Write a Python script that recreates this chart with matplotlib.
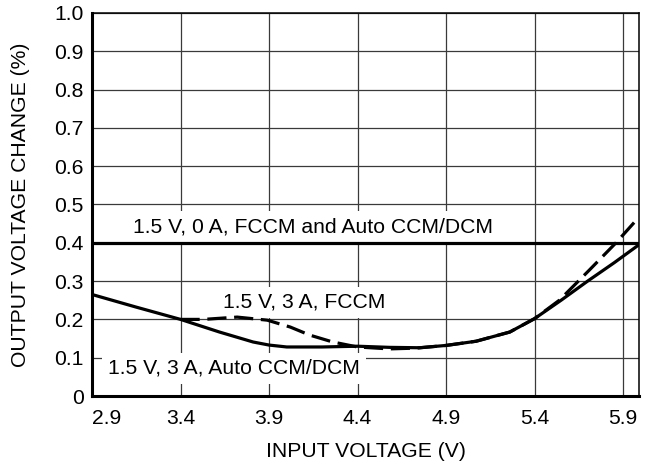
import numpy as np
import matplotlib
matplotlib.use("Agg")
from matplotlib import pyplot as plt

plt.rcParams['font.family'] = ['Liberation Sans', 'DejaVu Sans']

# values
x_ticks = [2.9, 3.4, 3.9, 4.4, 4.9, 5.4, 5.9]
y_ticks = [0, 0.1, 0.2, 0.3, 0.4, 0.5, 0.6, 0.7, 0.8, 0.9, 1.0]
y_tick_labels = ['0', '0.1', '0.2', '0.3', '0.4', '0.5', '0.6', '0.7', '0.8', '0.9', '1.0']

# 1.5 V, 0 A (FCCM and Auto CCM/DCM)
flat_x = [2.9, 5.99]
flat_y = [0.4, 0.4]

# 1.5 V, 3 A, Auto CCM/DCM
auto_x = [2.9, 3.15, 3.4, 3.62, 3.81, 3.9, 4.0, 4.2, 4.4, 4.58, 4.75, 4.9,
          5.07, 5.26, 5.4, 5.55, 5.7, 5.85, 5.99]
auto_y = [0.265, 0.232, 0.2, 0.167, 0.141, 0.133, 0.128, 0.128, 0.13, 0.127,
          0.126, 0.132, 0.143, 0.167, 0.202, 0.25, 0.3, 0.348, 0.395]

# 1.5 V, 3 A, FCCM (same as auto below 3.4 V)
fccm_x = [3.4, 3.53, 3.72, 3.89, 4.02, 4.13, 4.26, 4.4, 4.58, 4.73, 4.9,
          5.07, 5.26, 5.4, 5.54, 5.71, 5.86, 5.99]
fccm_y = [0.2, 0.2, 0.206, 0.198, 0.18, 0.159, 0.141, 0.128, 0.123, 0.125,
          0.132, 0.143, 0.167, 0.202, 0.25, 0.329, 0.40, 0.467]

fs = 15.2

fig = plt.figure(figsize=(6.63, 4.66), dpi=100)
ax = fig.add_axes([0.1388, 0.1502, 0.825, 0.822])

ax.plot(flat_x, flat_y, color='black', lw=2.3, zorder=4, solid_capstyle='butt')
ax.plot(auto_x, auto_y, color='black', lw=2.3, zorder=4)
ax.plot(fccm_x, fccm_y, color='black', lw=2.3, zorder=4, dashes=(6.0, 2.4))

box = dict(boxstyle='square,pad=0.3', facecolor='white', edgecolor='none')
ax.text(3.131, 0.428, '1.5 V, 0 A, FCCM and Auto CCM/DCM', fontsize=fs,
        va='baseline', ha='left', bbox=box, zorder=3)
ax.text(3.639, 0.23, '1.5 V, 3 A, FCCM', fontsize=fs,
        va='baseline', ha='left', bbox=box, zorder=3)
ax.text(2.99, 0.0575, '1.5 V, 3 A, Auto CCM/DCM', fontsize=fs,
        va='baseline', ha='left', bbox=box, zorder=3)

ax.set_xlim(2.9, 5.99)
ax.set_ylim(0, 1.0)
ax.set_xticks(x_ticks)
ax.set_xticklabels([f'{v:.1f}' for v in x_ticks], fontsize=fs)
ax.get_xticklabels()[0].set_horizontalalignment('left')
ax.set_yticks(y_ticks)
ax.set_yticklabels(y_tick_labels, fontsize=fs)
ax.tick_params(length=0)
ax.tick_params(axis='x', pad=9)
ax.tick_params(axis='y', pad=6)

ax.set_axisbelow(True)
ax.grid(True, color='#3a3a3a', lw=0.9)

ax.spines['left'].set_linewidth(2.2)
ax.spines['bottom'].set_linewidth(2.2)
ax.spines['top'].set_linewidth(1.1)
ax.spines['right'].set_linewidth(1.1)

ax.set_xlabel('INPUT VOLTAGE (V)', fontsize=fs, va='center')
ax.xaxis.set_label_coords(0.5, -0.1436)
ax.set_ylabel('OUTPUT VOLTAGE CHANGE (%)', fontsize=fs, va='center')
ax.yaxis.set_label_coords(-0.1316, 0.5)

fig.savefig('out.png', dpi=100)
